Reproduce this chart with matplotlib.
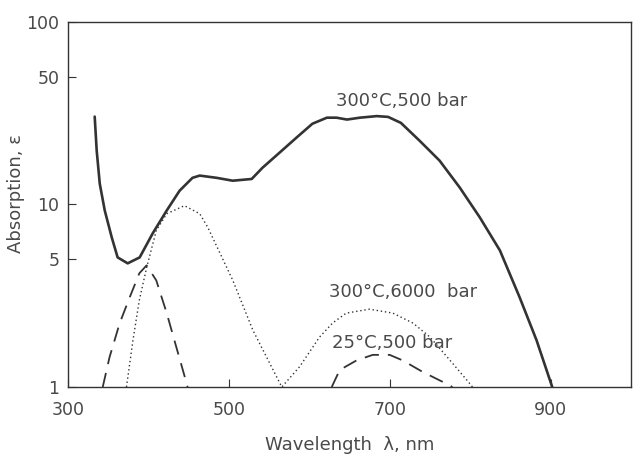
import matplotlib.pyplot as plt

# 300 C, 500 bar (solid)
wl_500 = [333.5, 336, 339.8, 346, 354.7, 362, 374.5, 389.4, 405.6, 423, 439, 455, 464,
          485, 505, 528.6, 542, 563, 584, 604, 622, 634, 647, 663, 684, 698, 714,
          737, 762, 787, 812, 837, 861.5, 882.6, 902]
ab_500 = [30.3, 19.7, 13.0, 9.27, 6.6, 5.13, 4.76, 5.13, 6.95, 9.27, 11.9, 14.0, 14.4,
          14.0, 13.5, 13.8, 15.9, 19.2, 23.2, 27.7, 29.9, 29.9, 29.2, 29.9, 30.5, 30.2, 28.0,
          22.4, 17.4, 12.4, 8.5, 5.6, 3.1, 1.8, 1.0]

# 300 C, 6000 bar (dotted)
wl_6000 = [373, 381, 389, 398, 410, 423, 445, 464, 474, 505, 530, 566,
           588, 613, 629, 646, 675, 704, 729, 750, 775, 796, 803]
ab_6000 = [1.0, 1.8, 3.0, 4.5, 7.2, 8.9, 9.85, 8.9, 7.5, 3.85, 2.05, 1.0,
           1.29, 1.88, 2.24, 2.54, 2.67, 2.54, 2.24, 1.88, 1.40, 1.09, 1.0]

# 25 C, 500 bar (dashed), two bands
wl_25a = [343.5, 352, 364.6, 377, 389, 398, 410, 423, 435, 449]
ab_25a = [1.0, 1.46, 2.24, 3.1, 4.2, 4.64, 3.84, 2.54, 1.65, 1.0]
wl_25b = [628, 638, 659, 679, 700, 716, 741, 771, 778]
ab_25b = [1.0, 1.24, 1.40, 1.50, 1.50, 1.40, 1.21, 1.04, 1.0]

ink = '#333333'
txt = '#4a4a4a'

fig = plt.figure(figsize=(6.33, 4.58), dpi=100)
ax = fig.add_axes([0.107, 0.155, 0.89, 0.797])

ax.plot(wl_500, ab_500, color=ink, lw=1.9, solid_capstyle='round', solid_joinstyle='round')
ax.plot(wl_6000, ab_6000, color=ink, lw=1.0, linestyle=(0, (1, 2)))
ax.plot(wl_25a, ab_25a, color=ink, lw=1.3, linestyle=(0, (8, 5)))
ax.plot(wl_25b, ab_25b, color=ink, lw=1.3, linestyle=(0, (8, 5)))

ax.set_yscale('log')
ax.set_xlim(300, 1000)
ax.set_ylim(1, 100)
ax.set_xticks([300, 500, 700, 900])
ax.set_xticklabels(['300', '500', '700', '900'])
ax.set_yticks([1, 5, 10, 50, 100])
ax.set_yticklabels(['1', '5', '10', '50', '100'])
ax.minorticks_off()
ax.tick_params(direction='in', length=6, width=0.8, colors=ink, labelcolor=txt,
               labelsize=12.5)
ax.tick_params(axis='x', pad=10)
ax.tick_params(axis='y', pad=6)
for s in ax.spines.values():
    s.set_color(ink)
    s.set_linewidth(1.0)

ax.set_xlabel('Wavelength  λ, nm', fontsize=13, color=txt)
ax.set_ylabel('Absorption, ε', fontsize=13, color=txt)
ax.xaxis.set_label_coords(0.5, -0.135)
ax.yaxis.set_label_coords(-0.075, 0.53)

ax.text(633, 37, '300°C,500 bar', fontsize=13, color=txt, va='center')
ax.text(625, 3.3, '300°C,6000  bar', fontsize=13, color=txt, va='center')
ax.text(628, 1.74, '25°C,500 bar', fontsize=13, color=txt, va='center')

fig.savefig('out.png', dpi=100)
